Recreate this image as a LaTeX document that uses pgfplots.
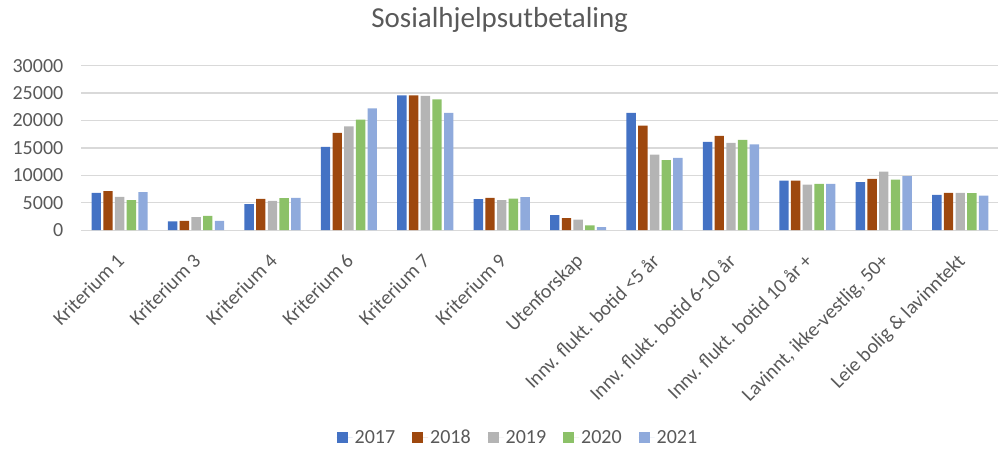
\documentclass[border=0pt]{standalone}
\usepackage{pgfplots}
\pgfplotsset{compat=1.18}
\usepackage{fontspec}
\setmainfont{Carlito}
\definecolor{c17}{HTML}{4472C4}
\definecolor{c18}{HTML}{9E480E}
\definecolor{c19}{HTML}{B4B4B4}
\definecolor{c20}{HTML}{8CC168}
\definecolor{c21}{HTML}{8FAADC}
\definecolor{txt}{HTML}{595959}
\definecolor{gridc}{HTML}{D9D9D9}

\begin{document}
\begin{tikzpicture}
\path (0pt,0pt) rectangle (999pt,454pt);
\node[font=\fontsize{29}{34}\selectfont, text=txt] at (500pt,434pt) {Sosialhjelpsutbetaling};
\begin{axis}[
    at={(81.5pt,223.7pt)}, anchor=south west,
    scale only axis, width=917.5pt, height=164.6pt,
    ymin=0, ymax=30000, xmin=-0.5, xmax=11.5,
    ybar=2.3pt, bar width=9.4pt,
    ytick={0,5000,...,30000},
    xtick={0,...,11},
    xticklabels={Kriterium 1, Kriterium 3, Kriterium 4, Kriterium 6, Kriterium 7, Kriterium 9, Utenforskap,
        Innv. flukt. botid <5 år, Innv. flukt. botid 6-10 år, Innv. flukt. botid 10 år +,
        {Lavinnt, ikke-vestlig, 50+}, Leie bolig \& lavinntekt},
    axis lines*=left,
    y axis line style={draw=none},
    x axis line style={draw=gridc, line width=1.2pt},
    major tick length=0pt,
    ymajorgrids,
    grid style={draw=gridc, line width=1.2pt},
    scaled y ticks=false,
    /pgf/number format/assume math mode=true,
    yticklabel={\pgfmathprintnumber[1000 sep={}]{\tick}},
    yticklabel style={font=\fontsize{20}{24}\selectfont, text=txt, inner sep=0pt, anchor=east, xshift=-18pt},
    xticklabel style={font=\fontsize{20}{24}\selectfont, text=txt, inner sep=0pt, xshift=-4pt, yshift=-22pt, rotate=45, anchor=north east},
    legend style={at={(0.476,-1.262)}, anchor=center, legend columns=5, draw=none,
        font=\fontsize{20}{24}\selectfont, text=txt,
        /tikz/every even column/.append style={column sep=15pt}},
    legend image code/.code={\fill[#1] (0pt,-5.5pt) rectangle (11pt,5.5pt); \path (0pt,0pt) -- (16pt,0pt);},
]
\addplot[fill=c17, draw=none] coordinates {(0,6800) (1,1580) (2,4740) (3,15180) (4,24600) (5,5650) (6,2730) (7,21370) (8,16090) (9,9050) (10,8740) (11,6440)};
\addplot[fill=c18, draw=none] coordinates {(0,7100) (1,1700) (2,5700) (3,17730) (4,24600) (5,5890) (6,2190) (7,19070) (8,17180) (9,9050) (10,9350) (11,6800)};
\addplot[fill=c19, draw=none] coordinates {(0,6070) (1,2370) (2,5340) (3,18940) (4,24470) (5,5460) (6,1940) (7,13780) (8,15900) (9,8320) (10,10690) (11,6800)};
\addplot[fill=c20, draw=none] coordinates {(0,5460) (1,2600) (2,5830) (3,20160) (4,23860) (5,5770) (6,850) (7,12750) (8,16450) (9,8440) (10,9230) (11,6740)};
\addplot[fill=c21, draw=none] coordinates {(0,6920) (1,1700) (2,5890) (3,22220) (4,21370) (5,6010) (6,550) (7,13180) (8,15660) (9,8440) (10,9840) (11,6310)};
\legend{2017, 2018, 2019, 2020, 2021}
\end{axis}
\end{tikzpicture}
\end{document}
